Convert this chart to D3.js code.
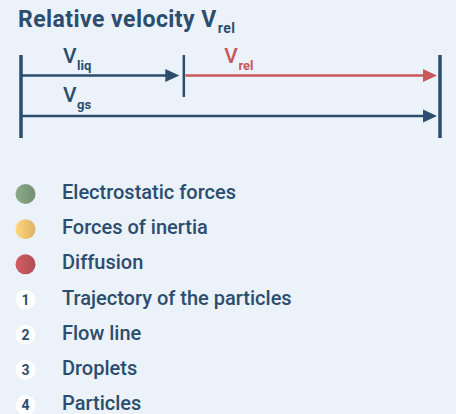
<!DOCTYPE html>
<html>
<head>
<meta charset="utf-8">
<script src="https://cdn.jsdelivr.net/npm/d3@7"></script>
<style>
  html, body { margin: 0; padding: 0; background: #ebf2fa; }
  svg { display: block; font-family: Roboto, "Noto Sans", sans-serif; }
</style>
</head>
<body>
<div id="chart"></div>
<script>
// velocities, as share of the gas velocity
var velNames = ["liq", "rel", "gs"];
var velStart = [0, 0.385, 0];
var velEnd = [0.385, 1, 1];
var velColors = ["#2c4d6e", "#c9575d", "#2c4d6e"];

// legend
var forceLabels = ["Electrostatic forces", "Forces of inertia", "Diffusion"];
var forceColors = ["#7f9c7d", "#f2c46f", "#c2545b"];
var numLabels = ["Trajectory of the particles", "Flow line", "Droplets", "Particles"];
var numKeys = ["1", "2", "3", "4"];

var width = 456, height = 414;
var ink = "#2c4d6e";

var svg = d3.select("#chart").append("svg")
    .attr("width", width)
    .attr("height", height);

var defs = svg.append("defs");
forceColors.forEach(function(c, i) {
    var g = defs.append("linearGradient").attr("id", "dot" + i);
    g.append("stop").attr("offset", "0%").attr("stop-color", d3.color(c).brighter(0.25));
    g.append("stop").attr("offset", "100%").attr("stop-color", d3.color(c).darker(0.25));
});

// title
var title = svg.append("text")
    .attr("x", 18).attr("y", 27)
    .attr("fill", ink)
    .style("font-size", "23px").style("font-weight", 700)
    .style("letter-spacing", "0.45px");
title.append("tspan").text("Relative velocity V");
title.append("tspan").attr("dx", 1).attr("dy", 6).style("font-size", "14px").text("rel");

// arrow diagram
var x = d3.scaleLinear().domain([0, 1]).range([21, 440]);
var rowY = d3.scaleOrdinal().domain(velNames).range([75.5, 75.5, 116]);
var labelY = d3.scaleOrdinal().domain(velNames).range([63, 63, 102]);

// bars
svg.append("line").attr("x1", x(0)).attr("x2", x(0)).attr("y1", 55).attr("y2", 138)
    .attr("stroke", ink).attr("stroke-width", 3.5);
svg.append("line").attr("x1", x(1)).attr("x2", x(1)).attr("y1", 55).attr("y2", 138)
    .attr("stroke", ink).attr("stroke-width", 3.5);
svg.append("line").attr("x1", x(velEnd[0]) + 1.5).attr("x2", x(velEnd[0]) + 1.5).attr("y1", 55).attr("y2", 97)
    .attr("stroke", ink).attr("stroke-width", 2.5);

velNames.forEach(function(n, i) {
    var y = rowY(n);
    var x0 = x(velStart[i]) + (i == 1 ? 3 : 1);
    var tip = x(velEnd[i]) - 3;
    svg.append("line")
        .attr("x1", x0).attr("x2", tip - 12)
        .attr("y1", y).attr("y2", y)
        .attr("stroke", velColors[i]).attr("stroke-width", 2.6);
    svg.append("path")
        .attr("d", "M" + (tip - 14) + "," + (y - 6.5) + "L" + tip + "," + y + "L" + (tip - 14) + "," + (y + 6.5) + "Z")
        .attr("fill", velColors[i]);
    var t = svg.append("text")
        .attr("x", x(velStart[i]) + 42).attr("y", labelY(n))
        .attr("fill", velColors[i])
        .style("font-size", "21px").style("font-weight", 500);
    t.append("tspan").text("V");
    t.append("tspan").attr("dx", 0.5).attr("dy", 7).style("font-size", "13px").style("font-weight", 700).text(n);
});

// legend
var allLabels = forceLabels.concat(numLabels);
var ly = d3.scalePoint().domain(allLabels).range([194, 405]);

var items = svg.selectAll(".item").data(allLabels).enter().append("g")
    .attr("class", "item")
    .attr("transform", function(d) { return "translate(0," + ly(d) + ")"; });

items.append("circle")
    .attr("cx", 25.5).attr("cy", 0).attr("r", 10)
    .attr("fill", function(d, i) { return i < forceLabels.length ? "url(#dot" + i + ")" : "#ffffff"; });

items.filter(function(d, i) { return i >= forceLabels.length; })
    .append("text")
    .attr("x", 25.5).attr("y", 5)
    .attr("text-anchor", "middle")
    .attr("fill", ink)
    .style("font-size", "14px").style("font-weight", 700)
    .text(function(d) { return numKeys[numLabels.indexOf(d)]; });

items.append("text")
    .attr("x", 62).attr("y", 5)
    .attr("fill", ink)
    .style("font-size", "20px").style("font-weight", 500)
    .text(function(d) { return d; });
</script>
</body>
</html>
